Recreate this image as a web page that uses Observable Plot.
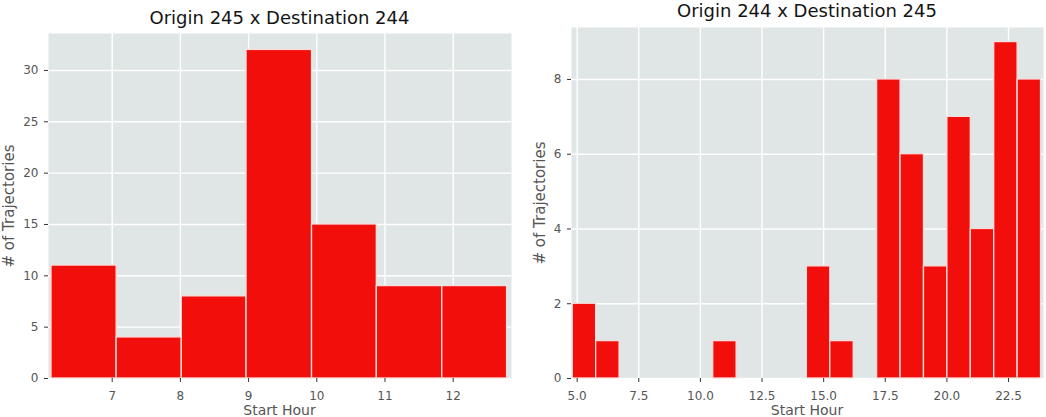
<!DOCTYPE html>
<html>
<head>
<meta charset="utf-8">
<script src="https://cdn.jsdelivr.net/npm/d3@7"></script>
<script src="https://cdn.jsdelivr.net/npm/@observablehq/plot@0.6"></script>
<style>
  html, body { margin: 0; padding: 0; background: #fff; }
  #wrap { position: relative; width: 1046px; height: 417px; overflow: hidden; font-family: "DejaVu Sans", sans-serif; }
  .panel { position: absolute; top: 0; }
  .title { position: absolute; font-size: 18px; color: #141414; white-space: nowrap; transform: translateX(-50%); line-height: 1; }
  .xlab { position: absolute; font-size: 14px; color: #555555; white-space: nowrap; transform: translateX(-50%); line-height: 1; }
  .ylab { position: absolute; font-size: 15px; color: #555555; white-space: nowrap; transform: translate(-50%, -50%) rotate(-90deg); line-height: 1; }
</style>
</head>
<body>
<div id="wrap"></div>
<script>
// ---- Left panel data: Origin 245 x Destination 244 ----
const leftTitle = "Origin 245 x Destination 244";
const leftEdges = [6.11, 7.065, 8.02, 8.97, 9.93, 10.88, 11.84, 12.79];
const leftCounts = [11, 4, 8, 32, 15, 9, 9];
const leftXTicks = [7, 8, 9, 10, 11, 12];
const leftYTicks = [0, 5, 10, 15, 20, 25, 30];

// ---- Right panel data: Origin 244 x Destination 245 ----
const rightTitle = "Origin 244 x Destination 245";
const rightEdges = [4.82, 5.77, 6.72, 7.67, 8.62, 9.57, 10.52, 11.47, 12.42, 13.37, 14.32,
                    15.27, 16.22, 17.17, 18.12, 19.07, 20.02, 20.97, 21.92, 22.87, 23.82];
const rightCounts = [2, 1, 0, 0, 0, 0, 1, 0, 0, 0, 3, 1, 0, 8, 6, 3, 7, 4, 9, 8];
const rightXTicks = [5, 7.5, 10, 12.5, 15, 17.5, 20, 22.5];
const rightYTicks = [0, 2, 4, 6, 8];

const xLabel = "Start Hour";
const yLabel = "# of Trajectories";

const BG = "#dfe6e5";
const BAR = "#f20f0b";
const TICK = "#555555";

function bins(edges, counts) {
  return counts.map((c, i) => ({x1: edges[i], x2: edges[i + 1], y: c})).filter(d => d.y > 0);
}

function panel({data, xDomain, yDomain, xTicks, yTicks, xFmt, width, height, mL, mR, mT, mB}) {
  return Plot.plot({
    width, height,
    marginLeft: mL, marginRight: mR, marginTop: mT, marginBottom: mB,
    style: {fontFamily: "DejaVu Sans, sans-serif", fontSize: "12px", background: "transparent", overflow: "visible"},
    x: {domain: xDomain},
    y: {domain: yDomain},
    marks: [
      Plot.frame({fill: BG, stroke: null}),
      Plot.gridX(xTicks, {stroke: "#ffffff", strokeOpacity: 1, strokeWidth: 1.4}),
      Plot.gridY(yTicks, {stroke: "#ffffff", strokeOpacity: 1, strokeWidth: 1.4}),
      Plot.rectY(data, {x1: "x1", x2: "x2", y: "y", fill: BAR, stroke: "#f8dede", strokeWidth: 1.3}),
      Plot.axisX(xTicks, {tickSize: 4, tickPadding: 8.5, fontSize: 12, color: TICK, stroke: "#333",
        tickFormat: xFmt, label: null}),
      Plot.axisY(yTicks, {tickSize: 4, tickPadding: 6, fontSize: 12, color: TICK, stroke: "#333",
        label: null})
    ]
  });
}

const wrap = document.getElementById("wrap");

const left = panel({
  data: bins(leftEdges, leftCounts),
  xDomain: [6.066, 12.855], yDomain: [0, 33.6],
  xTicks: leftXTicks, yTicks: leftYTicks, xFmt: d3.format("d"),
  width: 520, height: 417, mL: 48, mR: 9, mT: 33, mB: 39
});
left.classList.add("panel");
left.style.left = "0px";
wrap.appendChild(left);

const right = panel({
  data: bins(rightEdges, rightCounts),
  xDomain: [4.77, 23.92], yDomain: [0, 9.39],
  xTicks: rightXTicks, yTicks: rightYTicks, xFmt: d3.format(".1f"),
  width: 526, height: 417, mL: 51, mR: 3, mT: 27, mB: 39
});
right.classList.add("panel");
right.style.left = "520px";
wrap.appendChild(right);

function addText(cls, text, x, y) {
  const t = document.createElement("div");
  t.className = cls;
  t.textContent = text;
  t.style.left = x + "px";
  t.style.top = y + "px";
  wrap.appendChild(t);
}
addText("title", leftTitle, 279.5, 8.5);
addText("title", rightTitle, 807, 2);
addText("xlab", xLabel, 279.5, 402.7);
addText("xlab", xLabel, 807, 402.7);
addText("ylab", yLabel, 9, 205.5);
addText("ylab", yLabel, 540, 202.5);
</script>
</body>
</html>
